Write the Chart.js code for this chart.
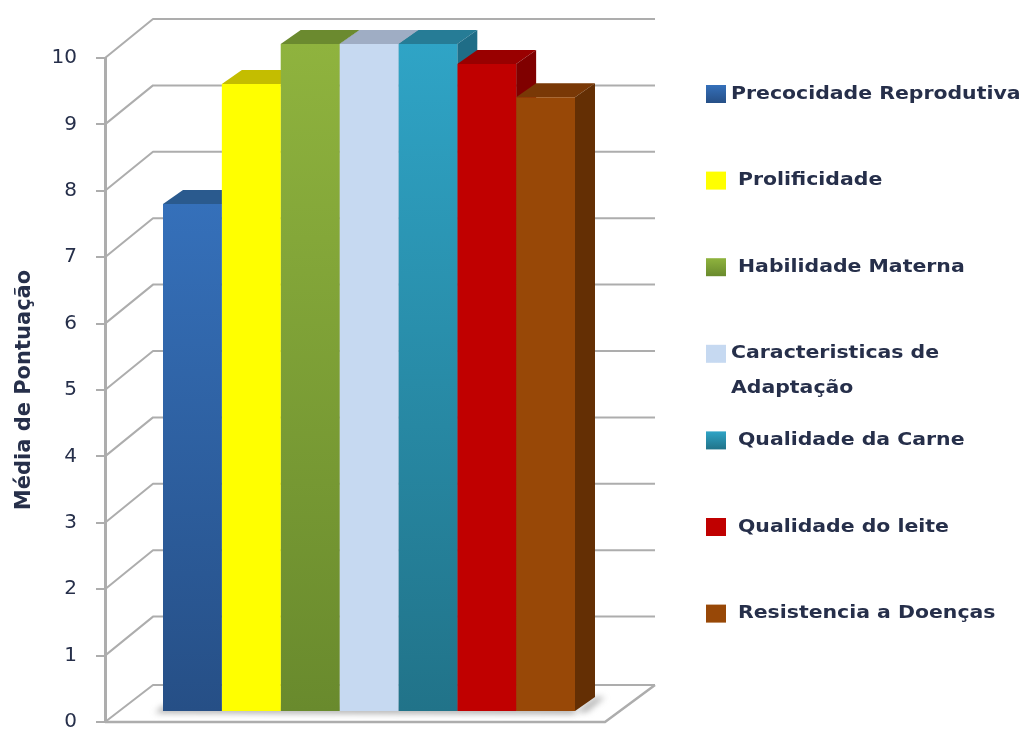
<!DOCTYPE html>
<html lang="pt">
<head>
  <meta charset="UTF-8" />
  <title>Média de Pontuação</title>
  <script src="https://cdn.jsdelivr.net/npm/chart.js"></script>
  <style>
    html, body { margin: 0; background: #fff; overflow: hidden; }
    canvas { display: block; filter: blur(0.7px); }
  </style>
</head>
<body>
  <canvas id="chart" width="1024" height="731"></canvas>
  <script>
  const seriesNames = ['Precocidade Reprodutiva', 'Prolificidade', 'Habilidade Materna', 'Caracteristicas de Adaptação', 'Qualidade da Carne', 'Qualidade do leite', 'Resistencia a Doenças'];
  const seriesValues = [7.6, 9.4, 10, 10, 10, 9.7, 9.2];
  const yTicks = [0, 1, 2, 3, 4, 5, 6, 7, 8, 9, 10];
  const yTitle = 'Média de Pontuação';

  const colorTop = ['#3570ba', '#ffff00', '#8fb33e', '#c6d9f1', '#2fa4c6', '#c00000', '#984807'];
  const colorBottom = ['#264f86', '#ffff00', '#698a2d', '#c6d9f1', '#217389', '#c00000', '#984807'];
  const colorLid = ['#2a5a8e', '#c4bd00', '#6b8a2f', '#9fadc4', '#267c96', '#990000', '#793806'];
  const colorSide = ['#224a78', '#a39d00', '#587426', '#8492a6', '#1f6d87', '#800000', '#642f04'];

  const depthX = 20, depthY = -14;   // bar depth
  const wallX = 48, wallY = -39;     // back wall offset
  const plotBottom = 722;
  const gridColor = '#adadad';
  const textColor = '#262f4a';
  const fontName = '"DejaVu Sans", sans-serif';

  function poly(ctx, pts, fill) {
    ctx.beginPath();
    pts.forEach((p, i) => i ? ctx.lineTo(p[0], p[1]) : ctx.moveTo(p[0], p[1]));
    ctx.closePath();
    ctx.fillStyle = fill;
    ctx.fill();
  }

  const box3d = {
    id: 'box3d',
    // layout stopped short of the canvas bottom, so stretch the axes down by hand
    afterLayout(chart) {
      chart.chartArea.bottom = plotBottom;
      chart.chartArea.height = plotBottom - chart.chartArea.top;
      ['y', 'yBars'].forEach(id => {
        const s = chart.scales[id];
        s.bottom = plotBottom;
        s.height = plotBottom - s.top;
        s.configure();
      });
    },
    beforeDatasetsDraw(chart) {
      const ctx = chart.ctx, area = chart.chartArea, y = chart.scales.y;
      const floorY = y.getPixelForValue(0);
      ctx.save();

      // floor
      poly(ctx, [[area.left, floorY], [area.right, floorY], [area.right + wallX + 2, floorY + wallY + 2], [area.left + wallX, floorY + wallY + 2]], '#fff');

      // wall lines
      ctx.strokeStyle = gridColor;
      ctx.lineWidth = 2;
      ctx.lineJoin = 'round';
      yTicks.forEach(t => {
        const py = y.getPixelForValue(t);
        const back = t === 0 ? py + wallY + 2 : py + wallY;
        ctx.beginPath();
        ctx.moveTo(area.left, py);
        ctx.lineTo(area.left + wallX, back);
        ctx.lineTo(area.right + wallX + 2, back);
        ctx.stroke();
      });

      // floor edges
      ctx.lineWidth = 2.5;
      ctx.beginPath();
      ctx.moveTo(area.left, floorY);
      ctx.lineTo(area.right, floorY);
      ctx.lineTo(area.right + wallX + 2, floorY + wallY + 2);
      ctx.stroke();

      ctx.translate(14, 0);

      // soft shadow on the floor
      const metas = seriesValues.map((v, i) => chart.getDatasetMeta(i).data[0]);
      const first = metas[0], last = metas[metas.length - 1];
      ctx.save();
      ctx.filter = 'blur(3px)';
      poly(ctx, [
        [last.x + last.width / 2, last.base + 1],
        [last.x + last.width / 2 + depthX, last.base + depthY],
        [last.x + last.width / 2 + depthX + 10, last.base + depthY],
        [last.x + last.width / 2 + 12, last.base + 1]
      ], 'rgba(120,120,120,0.55)');
      poly(ctx, [
        [first.x - first.width / 2 - 8, last.base + 2],
        [first.x - first.width / 2, last.base - 5],
        [last.x + last.width / 2, last.base - 5],
        [last.x + last.width / 2, last.base + 3]
      ], 'rgba(120,120,120,0.6)');
      ctx.restore();

      // top and side faces, left to right so each bar covers the one before
      metas.forEach((bar, i) => {
        const l = bar.x - bar.width / 2, r = bar.x + bar.width / 2;
        poly(ctx, [[l, bar.y], [r, bar.y], [r + depthX, bar.y + depthY], [l + depthX, bar.y + depthY]], colorLid[i]);
        poly(ctx, [[r, bar.y], [r + depthX, bar.y + depthY], [r + depthX, bar.base + depthY], [r, bar.base]], colorSide[i]);
      });
      ctx.restore();

      // fronts are drawn by Chart.js, shifted the same way
      ctx.save();
      ctx.translate(14, 0);
    },
    afterDatasetsDraw(chart) {
      chart.ctx.restore();
    }
  };

  const sideLegend = {
    id: 'sideLegend',
    afterDraw(chart) {
      const ctx = chart.ctx;
      const rows = [[seriesNames[0]], [seriesNames[1]], [seriesNames[2]], ['Caracteristicas de', 'Adaptação'], [seriesNames[4]], [seriesNames[5]], [seriesNames[6]]];
      const indent = [731, 738, 738, 731, 738, 738, 738];
      ctx.save();
      ctx.font = '600 18px ' + fontName;
      ctx.textBaseline = 'middle';
      rows.forEach((lines, i) => {
        const cy = 94 + 86.6 * i;
        const g = ctx.createLinearGradient(0, cy - 9, 0, cy + 9);
        g.addColorStop(0, colorTop[i]);
        g.addColorStop(1, colorBottom[i]);
        ctx.fillStyle = g;
        ctx.fillRect(706, cy - 9, 20, 18);
        ctx.fillStyle = textColor;
        lines.forEach((line, k) => {
          // the reference text is a little stretched sideways
          ctx.save();
          ctx.translate(indent[i], cy + k * 35);
          ctx.scale(1.135, 1);
          ctx.fillText(line, 0, 0);
          ctx.restore();
        });
      });
      ctx.restore();
    }
  };

  function frontFill(i) {
    return function (c) {
      const scale = c.chart.scales.yBars;
      if (!scale || !c.chart.chartArea) return colorTop[i];
      const top = scale.getPixelForValue(seriesValues[i]);
      const bottom = scale.getPixelForValue(0);
      if (!isFinite(top) || !isFinite(bottom)) return colorTop[i];
      const g = c.chart.ctx.createLinearGradient(0, top, 0, bottom);
      g.addColorStop(0, colorTop[i]);
      g.addColorStop(1, colorBottom[i]);
      return g;
    };
  }

  new Chart(document.getElementById('chart'), {
    type: 'bar',
    data: {
      labels: [yTitle],
      datasets: seriesNames.map((name, i) => ({
        label: name,
        data: [seriesValues[i]],
        yAxisID: 'yBars',
        clip: false,
        backgroundColor: frontFill(i),
        borderWidth: 0,
        categoryPercentage: 0.824,
        barPercentage: 1
      }))
    },
    options: {
      responsive: false,
      animation: false,
      devicePixelRatio: 1,
      layout: { autoPadding: false, padding: { top: 58, right: 419, bottom: 9, left: 0 } },
      plugins: { legend: { display: false }, tooltip: { enabled: false } },
      scales: {
        x: { display: false },
        y: {
          position: 'left',
          min: 0,
          max: 10,
          afterFit(scale) { scale.width = 105; },
          afterBuildTicks(scale) { scale.ticks = yTicks.map(v => ({ value: v })); },
          grid: { drawOnChartArea: false, drawTicks: true, tickLength: 9, color: gridColor, lineWidth: 2 },
          border: { display: true, color: gridColor, width: 3 },
          ticks: { color: textColor, padding: 19, font: { family: fontName, size: 20 } },
          title: { display: true, text: yTitle, color: textColor, padding: { top: 12, bottom: 0 }, font: { family: fontName, size: 21, weight: 'bold' } }
        },
        // bars stand a little in front of the wall, so they get their own axis
        yBars: { display: false, position: 'left', min: -0.165, max: 9.79 }
      }
    },
    plugins: [box3d, sideLegend]
  });
  </script>
</body>
</html>
